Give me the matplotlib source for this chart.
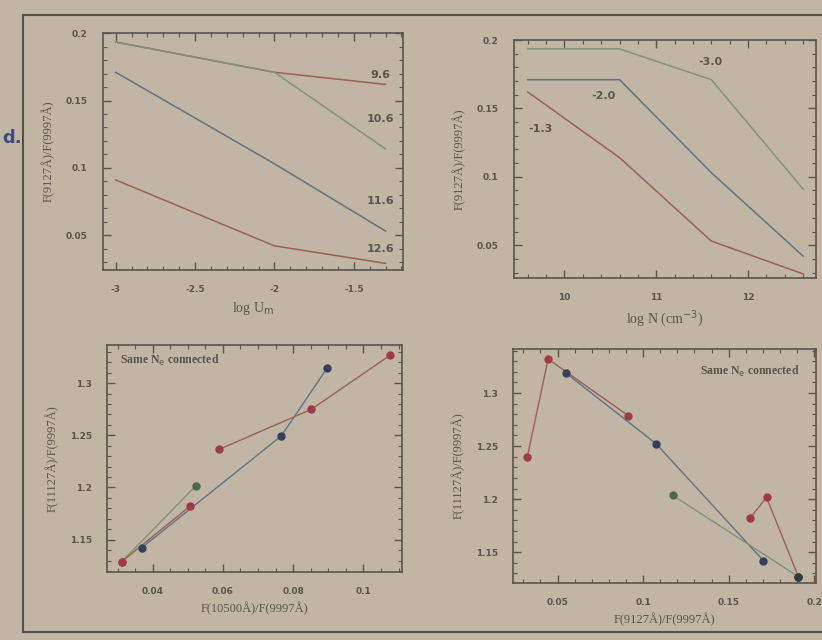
import numpy as np
import matplotlib.pyplot as plt
from matplotlib.lines import Line2D
from matplotlib.ticker import MultipleLocator, FormatStrFormatter

# ---------------------------------------------------------------------------
# data
# ---------------------------------------------------------------------------
log_u = [-3.0, -2.0, -1.3]
log_n = [9.6, 10.6, 11.6, 12.6]

# F(9127)/F(9997) for each log U (rows) and log N (columns)
ratio_u30 = [0.1935, 0.1935, 0.171, 0.091]
ratio_u20 = [0.171, 0.171, 0.103, 0.042]
ratio_u13 = [0.162, 0.114, 0.053, 0.029]
ratio_grid = [ratio_u30, ratio_u20, ratio_u13]

n_labels = ["9.6", "10.6", "11.6", "12.6"]
n_label_y = [0.169, 0.1366, 0.0754, 0.0396]
u_labels = ["-3.0", "-2.0", "-1.3"]
u_label_x = [11.59, 10.42, 9.74]
u_label_y = [0.184, 0.159, 0.135]

# panel c: F(10500)/F(9997) vs F(11127)/F(9997)
c_red_x = [0.0589, 0.0851, 0.1077]
c_red_y = [1.2365, 1.2747, 1.3269]
c_red2_x = [0.0312, 0.0506]
c_red2_y = [1.129, 1.182]
c_blue_x = [0.0369, 0.0766, 0.0896]
c_blue_y = [1.1423, 1.2493, 1.314]
c_green_x = [0.0312, 0.0522]
c_green_y = [1.129, 1.2012]

# panel d: F(9127)/F(9997) vs F(11127)/F(9997)
d_red_x = [0.0324, 0.0445, 0.0914]
d_red_y = [1.240, 1.332, 1.2786]
d_red2_x = [0.1627, 0.1721, 0.1907]
d_red2_y = [1.1827, 1.2016, 1.127]
d_blue_x = [0.0549, 0.1076, 0.1702]
d_blue_y = [1.3189, 1.2522, 1.1421]
d_green_x = [0.1174, 0.1907]
d_green_y = [1.2035, 1.127]

# ---------------------------------------------------------------------------
# style
# ---------------------------------------------------------------------------
paper = '#c0b6a3'
ink = '#5a544b'
red, green, blue = '#9e5e55', '#7f9479', '#62708a'
red_dot, green_dot, blue_dot = '#a03a44', '#4c6a48', '#33405e'
serif = ['Liberation Serif', 'DejaVu Serif']

plt.rcParams['font.family'] = ['DejaVu Sans']
plt.rcParams['text.color'] = ink
plt.rcParams['axes.labelcolor'] = ink

fig = plt.figure(figsize=(8.22, 6.4), dpi=100)
fig.patch.set_facecolor(paper)

ax1 = fig.add_axes([0.1253, 0.578, 0.365, 0.370])
ax2 = fig.add_axes([0.6253, 0.5656, 0.3674, 0.3719])
ax3 = fig.add_axes([0.1302, 0.10625, 0.3589, 0.3547])
ax4 = fig.add_axes([0.6241, 0.0891, 0.3686, 0.3656])


def style(ax, xmaj, xmin, ymaj, ymin):
    ax.set_facecolor(paper)
    for s in ax.spines.values():
        s.set_color(ink)
        s.set_linewidth(1.2)
    ax.xaxis.set_major_locator(MultipleLocator(xmaj))
    ax.xaxis.set_minor_locator(MultipleLocator(xmin))
    ax.yaxis.set_major_locator(MultipleLocator(ymaj))
    ax.yaxis.set_minor_locator(MultipleLocator(ymin))
    ax.xaxis.set_major_formatter(FormatStrFormatter('%g'))
    ax.yaxis.set_major_formatter(FormatStrFormatter('%g'))
    ax.tick_params(which='both', direction='in', top=True, right=True,
                   colors=ink, labelsize=6.5, pad=11)
    ax.tick_params(which='major', length=6, width=1)
    ax.tick_params(which='minor', length=3, width=0.8)
    for lab in ax.get_xticklabels() + ax.get_yticklabels():
        lab.set_fontweight('bold')


# panel a: ratio vs log U, one line per log N
line_cols_n = [red, green, blue, red]
for j in range(len(log_n)):
    ax1.plot(log_u, [row[j] for row in ratio_grid], color=line_cols_n[j], lw=1.1)
    ax1.text(-1.33, n_label_y[j], n_labels[j], ha='center', va='center',
             fontsize=8, fontweight='bold', color=ink)
ax1.set_xlim(-3.08, -1.19)
ax1.set_ylim(0.024, 0.2)
style(ax1, 0.5, 0.1, 0.05, 0.01)
ax1.set_xlabel(r'log U$_{\rm m}$', family=serif, fontsize=10, labelpad=4)
ax1.set_ylabel('F(9127Å)/F(9997Å)', family=serif, fontsize=9, labelpad=8)

# panel b: ratio vs log N, one line per log U
line_cols_u = [green, blue, red]
for i in range(len(log_u)):
    ax2.plot(log_n, ratio_grid[i], color=line_cols_u[i], lw=1.1)
    ax2.text(u_label_x[i], u_label_y[i], u_labels[i], ha='center', va='center',
             fontsize=8, fontweight='bold', color=ink)
ax2.set_xlim(9.45, 12.74)
ax2.set_ylim(0.026, 0.2)
style(ax2, 1, 0.2, 0.05, 0.01)
ax2.set_xlabel(r'log N (cm$^{-3}$)', family=serif, fontsize=10, labelpad=4)
ax2.set_ylabel('F(9127Å)/F(9997Å)', family=serif, fontsize=9, labelpad=8)


def track(ax, xs, ys, lc, dc):
    ax.plot(xs, ys, color=lc, lw=1.0, zorder=2)
    ax.plot(xs, ys, 'o', ms=5, color=dc, zorder=3)


# panel c
track(ax3, c_blue_x, c_blue_y, blue, blue_dot)
track(ax3, c_green_x, c_green_y, green, green_dot)
track(ax3, c_red2_x, c_red2_y, red, red_dot)
track(ax3, c_red_x, c_red_y, red, red_dot)
ax3.set_xlim(0.027, 0.111)
ax3.set_ylim(1.119, 1.3365)
style(ax3, 0.02, 0.005, 0.05, 0.01)
ax3.text(0.044, 0.934, r'Same N$_{\rm e}$ connected', transform=ax3.transAxes,
         family=serif, fontsize=8.5, fontweight='bold', va='center', ha='left')
ax3.set_xlabel('F(10500Å)/F(9997Å)', family=serif, fontsize=9, labelpad=4)
ax3.set_ylabel('F(11127Å)/F(9997Å)', family=serif, fontsize=9, labelpad=8)

# panel d
track(ax4, d_blue_x, d_blue_y, blue, blue_dot)
track(ax4, d_green_x, d_green_y, green, green_dot)
track(ax4, d_red_x, d_red_y, red, red_dot)
track(ax4, d_red2_x, d_red2_y, red, red_dot)
ax4.plot(d_red2_x[-1:], d_red2_y[-1:], 'o', ms=5, color='#2f3a3a', zorder=4)
ax4.set_xlim(0.024, 0.201)
ax4.set_ylim(1.121, 1.3415)
style(ax4, 0.05, 0.01, 0.05, 0.01)
ax4.text(0.944, 0.902, r'Same N$_{\rm e}$ connected', transform=ax4.transAxes,
         family=serif, fontsize=8.5, fontweight='bold', va='center', ha='right')
ax4.set_xlabel('F(9127Å)/F(9997Å)', family=serif, fontsize=9, labelpad=4)
ax4.set_ylabel('F(11127Å)/F(9997Å)', family=serif, fontsize=9, labelpad=8)

# page frame and the panel letter at the left edge
frame = '#55504a'
fig.add_artist(Line2D([23 / 822, 1.0], [1 - 15 / 640, 1 - 15 / 640], color=frame, lw=1.5))
fig.add_artist(Line2D([23 / 822, 23 / 822], [1 - 15 / 640, 1 - 632 / 640], color=frame, lw=1.5))
fig.add_artist(Line2D([23 / 822, 1.0], [1 - 632 / 640, 1 - 632 / 640], color=frame, lw=1.5))
fig.text(0.003, 1 - 138 / 640, 'd.', color='#3d4a86', fontsize=13,
         fontweight='bold', ha='left', va='center')

fig.savefig('out.png', dpi=100, facecolor=fig.get_facecolor())
